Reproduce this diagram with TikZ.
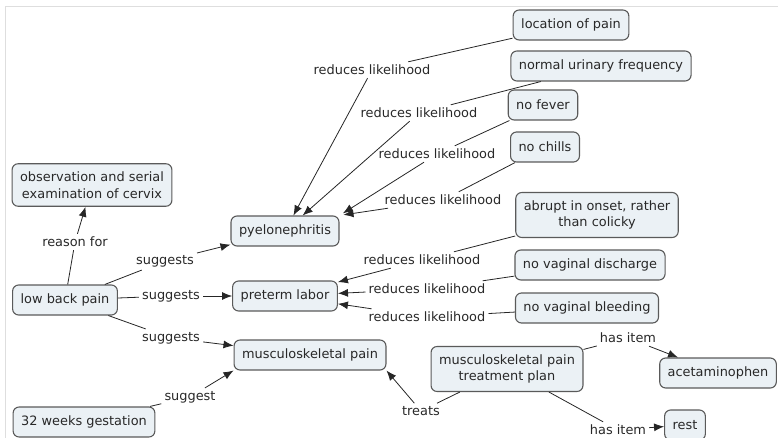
\documentclass[tikz,border=0pt]{standalone}
\usepackage{fontspec}
\setmainfont{DejaVu Sans}
\usetikzlibrary{arrows.meta,positioning}
\definecolor{ConceptFill}{RGB}{235,241,245}
\definecolor{ConceptDraw}{RGB}{90,90,90}
\definecolor{TextGray}{RGB}{40,40,40}
\definecolor{FrameGray}{RGB}{222,222,222}
\tikzset{
  cbox/.style={draw=ConceptDraw,fill=ConceptFill,rounded corners=6pt,
               line width=1.1pt,minimum height=30pt,inner xsep=8pt,inner ysep=8pt,
               align=center,text=TextGray},
  lbl/.style={inner sep=3pt,text=TextGray},
  lnk/.style={draw=black!85,line width=0.8pt},
  arr/.style={lnk,-{Latex[length=10pt,width=8pt]}},
}

\begin{document}
\begin{tikzpicture}[x=1pt,y=-1pt,
    font=\fontsize{12.9}{16.5}\selectfont]
    \useasboundingbox (0,0) rectangle (778,438);
    \draw[FrameGray, line width=1pt] (5,438) -- (5,7) -- (778,7);

    % Concepts
    \node[cbox] (loc) at (571,25) {location of pain};
    \node[cbox] (urin) at (601,66) {normal urinary frequency};
    \node[cbox] (fever) at (543,105) {no fever};
    \node[cbox] (chills) at (545,147) {no chills};
    \node[cbox] (abrupt) at (597,215) {abrupt in onset, rather\\than colicky};
    \node[cbox] (disch) at (590,265) {no vaginal discharge};
    \node[cbox] (bleed) at (587,308) {no vaginal bleeding};
    \node[cbox] (obs) at (92,185) {observation and serial\\examination of cervix};
    \node[cbox] (pyelo) at (285,231) {pyelonephritis};
    \node[cbox] (lbp) at (65,300) {low back pain};
    \node[cbox] (preterm) at (285,296) {preterm labor};
    \node[cbox] (musc) at (310,355) {musculoskeletal pain};
    \node[cbox] (plan) at (507,369) {musculoskeletal pain\\treatment plan};
    \node[cbox] (acet) at (718,373) {acetaminophen};
    \node[cbox] (rest) at (685,425) {rest};
    \node[cbox] (weeks) at (84,422) {32 weeks gestation};

    % Linking phrases
    \node[lbl] (rl1) at (372,70) {reduces likelihood};
    \node[lbl] (rl2) at (419,113) {reduces likelihood};
    \node[lbl] (rl3) at (437,154) {reduces likelihood};
    \node[lbl] (rl4) at (443,200) {reduces likelihood};
    \node[lbl] (rl5) at (422,260) {reduces likelihood};
    \node[lbl] (rl6) at (427,289) {reduces likelihood};
    \node[lbl] (rl7) at (427,317) {reduces likelihood};
    \node[lbl] (reason) at (75,242) {reason for};
    \node[lbl] (sug1) at (165,261) {suggests};
    \node[lbl] (sug2) at (171,296) {suggests};
    \node[lbl] (sug3) at (171,338) {suggests};
    \node[lbl] (sug4) at (190,397) {suggest};
    \node[lbl] (treats) at (421,411) {treats};
    \node[lbl] (item1) at (628,338) {has item};
    \node[lbl] (item2) at (618,430) {has item};

    % Connections
    \draw[lnk] (loc) -- (rl1);    \draw[arr] (rl1) -- (pyelo);
    \draw[lnk] (urin) -- (rl2);   \draw[arr] (rl2) -- (pyelo);
    \draw[lnk] (fever) -- (rl3);  \draw[arr, shorten >=4pt] (rl3) -- (pyelo.north east);
    \draw[lnk] (chills) -- (rl4); \draw[arr, shorten >=4pt] (rl4) -- (pyelo.north east);
    \draw[lnk] (abrupt) -- (rl5); \draw[arr] (rl5) -- (preterm);
    \draw[lnk] (disch) -- (rl6);  \draw[arr] (rl6) -- (preterm);
    \draw[lnk] (bleed) -- (rl7);  \draw[arr] (rl7) -- (preterm);
    \draw[lnk] (lbp) -- (reason); \draw[arr] (reason) -- (obs);
    \draw[lnk] (lbp) -- (sug1);   \draw[arr] (sug1) -- (pyelo);
    \draw[lnk] (lbp) -- (sug2);   \draw[arr] (sug2) -- (preterm);
    \draw[lnk] (lbp) -- (sug3);   \draw[arr] (sug3) -- (musc);
    \draw[lnk] (weeks) -- (sug4); \draw[arr] (sug4) -- (musc.south west);
    \draw[lnk] (plan) -- (treats); \draw[arr] (treats) -- (musc.south east);
    \draw[lnk] (plan) -- (item1); \draw[arr] (item1) -- (acet);
    \draw[lnk] (plan) -- (item2); \draw[arr] (item2) -- (rest);
\end{tikzpicture}
\end{document}
